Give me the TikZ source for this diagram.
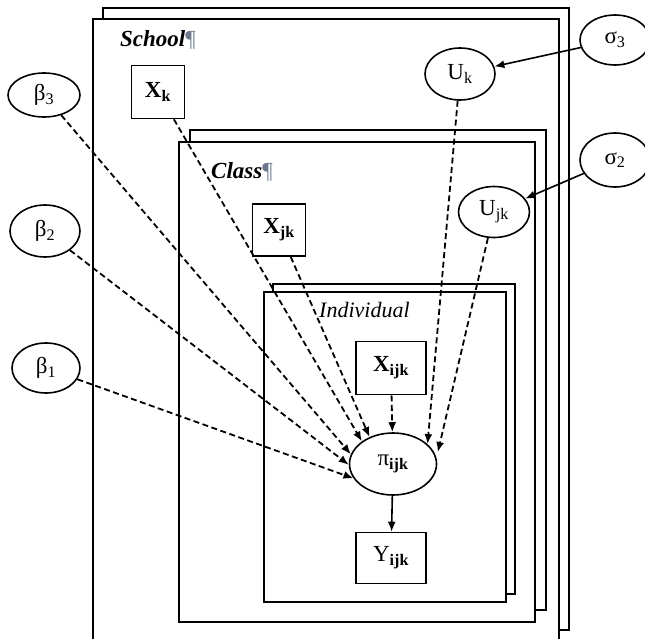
\documentclass[tikz,border=0pt]{standalone}
\usepackage{fontspec}
\setmainfont{Liberation Serif}
\usetikzlibrary{shapes.geometric,arrows.meta}
\definecolor{pilc}{RGB}{110,120,140}
\tikzset{
  plate/.style={draw, fill=white, line width=1.8pt},
  oval/.style={draw, ellipse, line width=1.6pt, fill=white, inner sep=0pt},
  box/.style={draw, rectangle, line width=1.6pt, fill=white, inner sep=0pt},
  dep/.style={line width=1.8pt, dash pattern=on 6pt off 3.5pt, -{Latex[length=10pt,width=8pt]}},
  solidarr/.style={line width=1.6pt, -{Latex[length=10pt,width=8pt]}},
  platelabel/.style={font=\fontsize{23}{26}\selectfont\bfseries\itshape, anchor=west, inner sep=0pt},
  lab/.style={font=\fontsize{23}{26}\selectfont}
}
\newcommand{\pil}{\textcolor{pilc}{\textmd{\textup{¶}}}}
\begin{document}
\begin{tikzpicture}[x=1pt,y=-1pt]
\useasboundingbox (0,0) rectangle (645,639);
% School plate
\draw[plate] (103,8) rectangle (569,630);
\draw[plate] (93,19) rectangle (559,645);
% Class plate
\draw[plate] (190,130) rectangle (546,610);
\draw[plate] (179,142) rectangle (535,622);
% Individual plate
\draw[plate] (273,284) rectangle (515,594);
\draw[plate] (264,292) rectangle (506,602);
% plate labels
\node[platelabel] (school) at (120,40) {School\pil};
\node[platelabel] (class) at (211,172) {Class\pil};
\node[platelabel, font=\fontsize{22}{25}\selectfont\itshape] (indiv) at (319,310) {Individual};
% nodes
\node[oval, minimum width=72pt, minimum height=44pt, lab] (b3) at (44,95) {β\textsubscript{3}};
\node[oval, minimum width=70pt, minimum height=52pt, lab] (b2) at (45,231) {β\textsubscript{2}};
\node[oval, minimum width=68pt, minimum height=50pt, lab] (b1) at (46,368) {β\textsubscript{1}};
\node[box, minimum width=53pt, minimum height=53pt, lab] (xk) at (158,92) {\textbf{X}\textsubscript{\bfseries k}};
\node[box, minimum width=53pt, minimum height=52pt, lab] (xjk) at (279,230) {\textbf{X}\textsubscript{\bfseries jk}};
\node[box, minimum width=70pt, minimum height=53pt, lab] (xijk) at (391,368) {\textbf{X}\textsubscript{\bfseries ijk}};
\node[oval, minimum width=87pt, minimum height=62pt, lab] (pi) at (393,464) {π\textsubscript{\bfseries ijk}};
\node[box, minimum width=70pt, minimum height=51pt, lab] (yijk) at (391,558) {Y\textsubscript{\bfseries ijk}};
\node[oval, minimum width=70pt, minimum height=52pt, lab] (uk) at (460,74) {U\textsubscript{k}};
\node[oval, minimum width=71pt, minimum height=51pt, lab] (ujk) at (494,212) {U\textsubscript{jk}};
\node[oval, minimum width=70pt, minimum height=50pt, lab] (s3) at (615,40) {σ\textsubscript{3}};
\node[oval, minimum width=70pt, minimum height=54pt, lab] (s2) at (615,160) {σ\textsubscript{2}};
% connectors
\draw[dep] (b3) -- (pi.167);
\draw[dep] (b2) -- (pi.181);
\draw[dep] (b1) -- (pi.200);
\draw[dep] (xk) -- (pi.144);
\draw[dep] (xjk) -- (pi.131);
\draw[dep] (xijk) -- (pi);
\draw[dep] (uk) -- (pi.30);
\draw[dep, shorten >=6pt] (ujk) -- (pi.8);
\draw[solidarr] (pi) -- (yijk);
\draw[solidarr] (s3) -- (uk);
\draw[solidarr] (s2) -- (ujk);
\end{tikzpicture}
\end{document}
